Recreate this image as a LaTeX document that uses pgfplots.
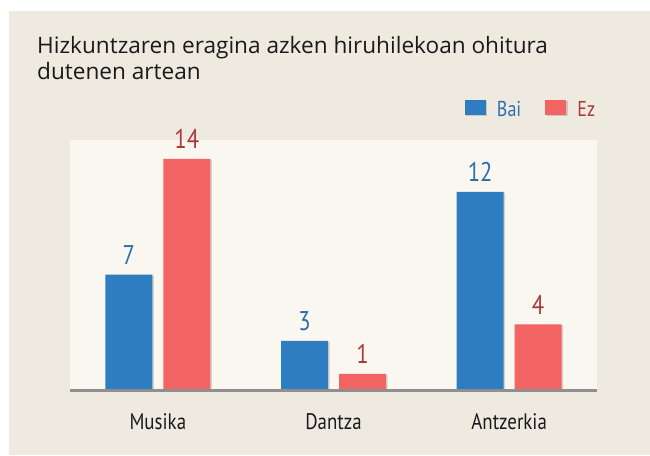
\documentclass[border=0pt]{standalone}
\usepackage{pgfplots}
\pgfplotsset{compat=1.18}
\usepackage{fontspec}
\setmainfont{PT Sans}
\newfontfamily\condfont[FakeStretch=0.84]{PT Sans}
\newfontfamily\titlefont{Open Sans}
\usetikzlibrary{shadows}
\definecolor{outerbg}{HTML}{EEEAE0}
\definecolor{innerbg}{HTML}{FAF7F1}
\definecolor{baiblue}{HTML}{2F7DC1}
\definecolor{ezred}{HTML}{F26464}
\definecolor{bailabel}{HTML}{2E6DAE}
\definecolor{ezlabel}{HTML}{A83A3A}
\definecolor{axisgray}{HTML}{8F8F8F}
\definecolor{titlec}{HTML}{1A1A1A}
\begin{document}
\begin{tikzpicture}
\fill[white] (0bp,0bp) rectangle (650bp,456bp);
\fill[outerbg] (9bp,1bp) rectangle (650bp,445bp);
\node[anchor=base west, inner sep=0pt, font=\titlefont\fontsize{22.6bp}{26bp}\selectfont, text=titlec] at (37bp,402bp) {Hizkuntzaren eragina azken hiruhilekoan ohitura};
\node[anchor=base west, inner sep=0pt, font=\titlefont\fontsize{22.6bp}{26bp}\selectfont, text=titlec] at (37bp,376bp) {dutenen artean};
\begin{axis}[
  at={(70bp,65.5bp)}, anchor=south west,
  scale only axis, width=527bp, height=250.5bp,
  xmin=-0.5, xmax=2.5, ymin=0, ymax=15.14,
  axis x line=bottom, axis y line=none,
  x axis line style={-, line width=3bp, draw=axisgray},
  axis on top,
  axis background/.style={fill=innerbg},
  xtick={0,1,2}, xticklabels={Musika,Dantza,Antzerkia},
  ytick=\empty, major tick length=0pt,
  xticklabel style={anchor=base, yshift=-39bp, font=\condfont\fontsize{22.5bp}{26bp}\selectfont, text=titlec},
  /pgf/number format/assume math mode=true,
  nodes near coords,
  every node near coord/.append style={font=\condfont\fontsize{27bp}{30bp}\selectfont, anchor=base, yshift=10bp},
  legend style={draw=none, fill=none, at={(0.7495,1.125)}, anchor=west,
    legend columns=-1, inner sep=0pt, outer sep=0pt, nodes={inner sep=0pt},
    font=\condfont\fontsize{21.5bp}{25bp}\selectfont,
    /tikz/every odd column/.append style={column sep=11bp},
    /tikz/every even column/.append style={column sep=24bp}},
]
\addplot[ybar, bar width=47bp, bar shift=-29bp, fill=baiblue, draw=none,
  drop shadow={shadow xshift=1.5bp, shadow yshift=-1bp, opacity=0.15, fill=black},
  every node near coord/.append style={text=bailabel, xshift=-29bp},
  legend image code/.code={\fill[baiblue] (0bp,-5bp) rectangle (21bp,10bp);}]
  coordinates {(0,7) (1,3) (2,12)};
\addlegendentry{\textcolor{bailabel}{Bai}}
\addplot[ybar, bar width=47bp, bar shift=29bp, fill=ezred, draw=none,
  drop shadow={shadow xshift=1.5bp, shadow yshift=-1bp, opacity=0.15, fill=black},
  every node near coord/.append style={text=ezlabel, xshift=29bp},
  legend image code/.code={\fill[ezred] (0bp,-5bp) rectangle (21bp,10bp);}]
  coordinates {(0,14) (1,1) (2,4)};
\addlegendentry{\textcolor{ezlabel}{Ez}}
\end{axis}
\end{tikzpicture}
\end{document}
